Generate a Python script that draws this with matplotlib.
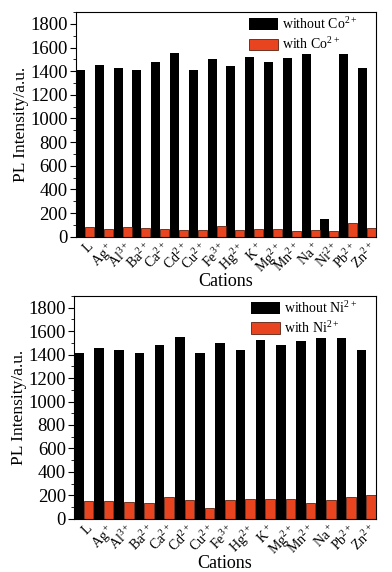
import matplotlib
matplotlib.use('Agg')
import matplotlib.pyplot as plt
import numpy as np
from matplotlib.ticker import MultipleLocator

plt.rcParams['font.family'] = ['Liberation Serif', 'DejaVu Serif']
plt.rcParams['mathtext.fontset'] = 'custom'
plt.rcParams['mathtext.rm'] = 'Liberation Serif'

# top panel (Co2+)
cations_co = ['L', 'Ag$^+$', 'Al$^{3+}$', 'Ba$^{2+}$', 'Ca$^{2+}$', 'Cd$^{2+}$', 'Cu$^{2+}$', 'Fe$^{3+}$',
              'Hg$^{2+}$', 'K$^+$', 'Mg$^{2+}$', 'Mn$^{2+}$', 'Na$^+$', 'Ni$^{2+}$', 'Pb$^{2+}$', 'Zn$^{2+}$']
without_co = [1410, 1450, 1430, 1410, 1480, 1550, 1410, 1500, 1440, 1520, 1480, 1515, 1545, 150, 1545, 1430]
with_co = [80, 65, 80, 75, 65, 60, 55, 95, 60, 70, 70, 45, 60, 50, 120, 75]

# bottom panel (Ni2+)
cations_ni = ['L', 'Ag$^+$', 'Al$^{3+}$', 'Ba$^{2+}$', 'Ca$^{2+}$', 'Cd$^{2+}$', 'Cu$^{2+}$', 'Fe$^{3+}$',
              'Hg$^{2+}$', 'K$^+$', 'Mg$^{2+}$', 'Mn$^{2+}$', 'Na$^+$', 'Pb$^{2+}$', 'Zn$^{2+}$']
without_ni = [1410, 1455, 1435, 1410, 1485, 1550, 1410, 1500, 1440, 1525, 1485, 1520, 1545, 1545, 1435]
with_ni = [155, 150, 140, 135, 190, 160, 95, 160, 165, 165, 170, 135, 160, 190, 200]

red = '#E8441F'
w = 0.475

fig = plt.figure(figsize=(3.92, 5.72), dpi=100)
ax1 = fig.add_axes([0.194, 0.586, 0.765, 0.393])
ax2 = fig.add_axes([0.189, 0.093, 0.770, 0.3896])


def draw(ax, cats, black, orange, ion):
    x = np.arange(len(cats))
    ax.bar(x - w / 2, black, w, color='black', label='without ' + ion)
    ax.bar(x + w / 2, orange, w, color=red, edgecolor='#5a2010', linewidth=0.6, label='with ' + ion)
    ax.set_xlim(-w, len(cats) - 1 + w)
    ax.set_ylim(0, 1900)
    ax.yaxis.set_major_locator(MultipleLocator(200))
    ax.yaxis.set_minor_locator(MultipleLocator(100))
    ax.tick_params(axis='y', labelsize=13.5, direction='out', length=4, pad=2)
    ax.tick_params(axis='y', which='minor', length=2)
    ax.set_xticks(x + 0.1)
    ax.set_xticklabels(cats, rotation=45, ha='right', rotation_mode='anchor', fontsize=10)
    ax.tick_params(axis='x', length=0, pad=2)
    ax.set_xlabel('Cations', fontsize=13, labelpad=-3)
    ax.set_ylabel('PL Intensity/a.u.', fontsize=12.5, labelpad=1)
    ax.legend(loc='upper right', bbox_to_anchor=(0.94, 0.985), frameon=False, fontsize=10,
              handlelength=2.1, handleheight=0.9, handletextpad=0.3, labelspacing=0.25,
              borderpad=0, borderaxespad=0)


draw(ax1, cations_co, without_co, with_co, 'Co$^{2+}$')
draw(ax2, cations_ni, without_ni, with_ni, 'Ni$^{2+}$')

fig.savefig('out.png', dpi=100)
